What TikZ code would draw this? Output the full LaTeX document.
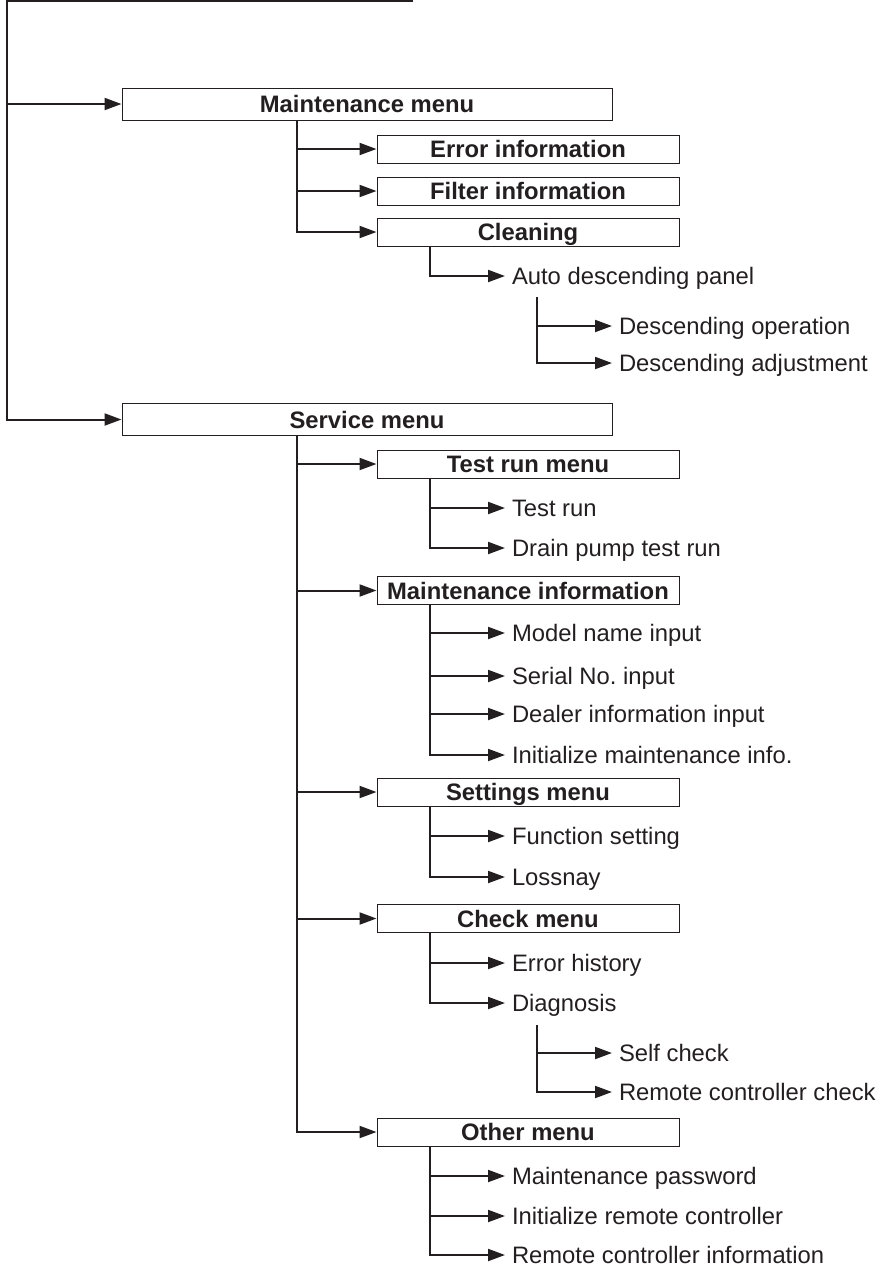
\documentclass[tikz,border=0pt]{standalone}
\usepackage{fontspec}
\setmainfont{Liberation Sans}
\usetikzlibrary{arrows.meta}
\definecolor{ink}{HTML}{231F20}

\begin{document}
\begin{tikzpicture}[x=0.5pt,y=-0.5pt,line width=1pt,color=ink]
    %
    % `menu' is used for the two main menus, `submenu' for the boxes below them.
    % `item' is used for the plain text entries.
    \tikzstyle{menu} = [draw,line width=0.5pt,fill=white,minimum width=245pt,minimum height=16pt,inner sep=0pt,text height=8.5pt,text depth=0pt,font=\bfseries\fontsize{11.9}{14}\selectfont]
    \tikzstyle{submenu} = [menu,minimum width=151pt,minimum height=14pt]
    \tikzstyle{item} = [anchor=west,inner xsep=3pt,inner ysep=0pt,text height=8.5pt,text depth=0pt,font=\fontsize{11.9}{14}\selectfont]
    \tikzstyle{arrow} = [-{Triangle[length=8.5pt,width=6pt]}]
    \useasboundingbox (0,0) rectangle (880,1271);
    %
    % Top line
    \coordinate (top) at (7,1);
    \coordinate (topend) at (413,1);
    %
    % Maintenance menu
    \node[menu] (maint) at (367,104) {Maintenance menu};
    \draw[arrow] (top) |- (maint);
    \coordinate (maintbus) at (297,120);
    \node[submenu] (errinfo) at (528,149) {Error information};
    \node[submenu] (filter) at (528,191) {Filter information};
    \node[submenu] (clean) at (528,232) {Cleaning};
    \draw[arrow] (maintbus) |- (errinfo);
    \draw[arrow] (maintbus) |- (filter);
    \draw[arrow] (maintbus) |- (clean);
    %
    % Cleaning
    \coordinate (cleanbus) at (430,246);
    \node[item] (panel) at (505,276) {Auto descending panel};
    \draw[arrow] (cleanbus) |- (panel);
    \coordinate (panelbus) at (537,297);
    \node[item] (descop) at (612,326) {Descending operation};
    \node[item] (descadj) at (612,363) {Descending adjustment};
    \draw[arrow] (panelbus) |- (descop);
    \draw[arrow] (panelbus) |- (descadj);
    %
    % Service menu
    \node[menu] (service) at (367,419.5) {Service menu};
    \draw[arrow] (topend) -- (top) |- (service);
    \coordinate (servicebus) at (297,435.5);
    \node[submenu] (testrun) at (528,464) {Test run menu};
    \node[submenu] (maintinfo) at (528,590.5) {Maintenance information};
    \node[submenu] (settings) at (528,792) {Settings menu};
    \node[submenu] (check) at (528,918.5) {Check menu};
    \node[submenu] (other) at (528,1132) {Other menu};
    \draw[arrow] (servicebus) |- (testrun);
    \draw[arrow] (servicebus) |- (maintinfo);
    \draw[arrow] (servicebus) |- (settings);
    \draw[arrow] (servicebus) |- (check);
    \draw[arrow] (servicebus) |- (other);
    %
    % Test run menu
    \coordinate (testbus) at (430,478);
    \node[item] (run) at (505,508) {Test run};
    \node[item] (drain) at (505,548) {Drain pump test run};
    \draw[arrow] (testbus) |- (run);
    \draw[arrow] (testbus) |- (drain);
    %
    % Maintenance information
    \coordinate (infobus) at (430,604.5);
    \node[item] (model) at (505,633) {Model name input};
    \node[item] (serial) at (505,676) {Serial No.\ input};
    \node[item] (dealer) at (505,714) {Dealer information input};
    \node[item] (initinfo) at (505,755) {Initialize maintenance info.};
    \draw[arrow] (infobus) |- (model);
    \draw[arrow] (infobus) |- (serial);
    \draw[arrow] (infobus) |- (dealer);
    \draw[arrow] (infobus) |- (initinfo);
    %
    % Settings menu
    \coordinate (setbus) at (430,806);
    \node[item] (function) at (505,836) {Function setting};
    \node[item] (lossnay) at (505,877) {Lossnay};
    \draw[arrow] (setbus) |- (function);
    \draw[arrow] (setbus) |- (lossnay);
    %
    % Check menu
    \coordinate (checkbus) at (430,932.5);
    \node[item] (history) at (505,963) {Error history};
    \node[item] (diag) at (505,1003) {Diagnosis};
    \draw[arrow] (checkbus) |- (history);
    \draw[arrow] (checkbus) |- (diag);
    \coordinate (diagbus) at (537,1025);
    \node[item] (self) at (612,1053) {Self check};
    \node[item] (rccheck) at (612,1092) {Remote controller check};
    \draw[arrow] (diagbus) |- (self);
    \draw[arrow] (diagbus) |- (rccheck);
    %
    % Other menu
    \coordinate (otherbus) at (430,1146);
    \node[item] (password) at (505,1176) {Maintenance password};
    \node[item] (initrc) at (505,1216) {Initialize remote controller};
    \node[item] (rcinfo) at (505,1255) {Remote controller information};
    \draw[arrow] (otherbus) |- (password);
    \draw[arrow] (otherbus) |- (initrc);
    \draw[arrow] (otherbus) |- (rcinfo);
    %
\end{tikzpicture}
\end{document}
